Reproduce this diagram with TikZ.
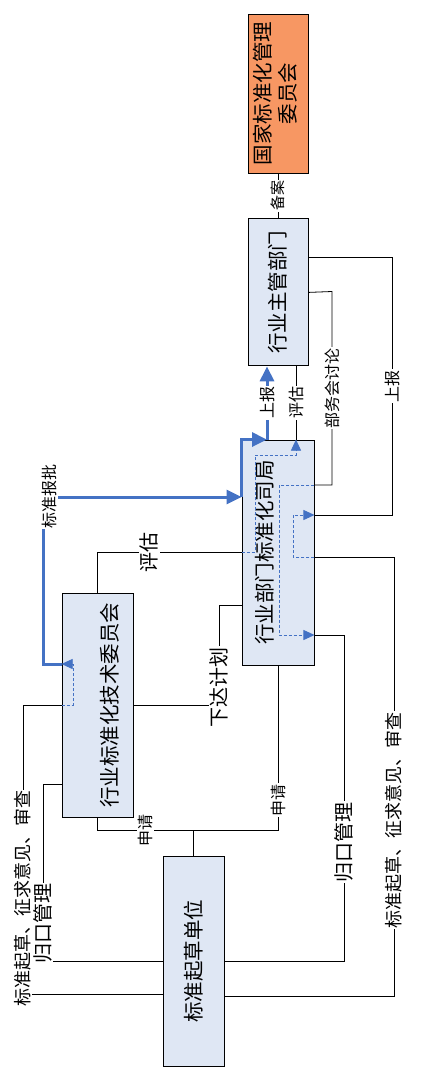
\documentclass[tikz,border=0pt]{standalone}
\usepackage{fontspec}
\newfontfamily\cjk{Noto Sans CJK SC}
\usetikzlibrary{arrows.meta,positioning}
\definecolor{boxblue}{HTML}{DFE7F4}
\definecolor{boxorange}{HTML}{F79763}
\definecolor{flowblue}{HTML}{4472C4}
\tikzset{
  unitbox/.style={draw, line width=0.9pt, inner sep=0pt, fill=boxblue, font=\cjk\fontsize{20.5}{25}\selectfont},
  lbl/.style={fill=white, inner sep=1pt, rotate=90, font=\cjk\fontsize{16}{16}\selectfont},
  midlbl/.style={lbl, font=\cjk\fontsize{18}{18}\selectfont},
  biglbl/.style={lbl, font=\cjk\fontsize{20}{20}\selectfont},
  link/.style={draw, line width=0.8pt},
  hidden/.style={draw=flowblue, line width=0.6pt, dash pattern=on 3pt off 2pt, -{Triangle[length=11pt,width=10pt]}},
  report/.style={draw=flowblue, line width=3pt, -{Triangle[length=15pt,width=14pt]}},
}
\begin{document}
\begin{tikzpicture}[x=1pt,y=-1pt]
	\useasboundingbox (0,0) rectangle (434,1083);
	
	\node[unitbox, fill=boxorange, minimum width=60pt, minimum height=159pt] (sac) at (278,93.5)
		{\rotatebox{90}{\begin{tabular}{@{}c@{}}国家标准化管理\\委员会\end{tabular}}};
	\node[unitbox, minimum width=60pt, minimum height=147pt, below=45pt of sac] (moi)
		{\rotatebox{90}{行业主管部门}};
	\node[unitbox, minimum width=72pt, minimum height=225pt] (bur) at (278,552.5)
		{\rotatebox{90}{行业部门标准化司局}\kern26pt};
	\node[unitbox, minimum width=71pt, minimum height=224pt] (tc) at (97.5,705)
		{\kern25pt\rotatebox{90}{行业标准化技术委员会}};
	\node[unitbox, minimum width=61pt, minimum height=210pt] (unit) at (193.5,961)
		{\rotatebox{90}{标准起草单位}};
	
	\draw[link] (sac) -- node[lbl, font=\cjk\fontsize{15}{15}\selectfont] {备案} (moi);
	\draw[link] (moi.east |- 0,257) -- (392,257) -- node[lbl] {上报} (392,515) -- (bur.east |- 0,515);
	\draw[link] (moi.east) -- (332,291.5) -- node[lbl] {部务会讨论} (332,485) -- (bur.east |- 0,485);
	\draw[link] (bur.north -| 296,0) -- node[lbl] {评估} (moi.south -| 296,0);
	\draw[link] (tc.north) -- (97.5,552) -- node[biglbl, pos=0.36] {评估} (bur.west |- 0,552);
	\draw[link] (bur.west |- 0,605) -- (219,605) -- node[biglbl, pos=0.82] {下达计划} (219,705) -- (tc.east);
	\draw[link] (unit.north) -- (unit.north |- 0,830) -- node[lbl] {申请} (tc.south |- 0,830) -- (tc.south);
	\draw[link] (unit.north |- 0,830) -- (278,830) -- node[lbl, pos=0.18] {申请} (bur.south);
	\draw[link] (bur.east |- 0,635) -- (344,635) -- node[biglbl, pos=0.635] {归口管理} (344,961) -- (unit.east);
	\draw[link] (bur.east |- 0,557) -- (394,557) -- node[midlbl, pos=0.6] {标准起草、征求意见、审查} (394,996) -- (unit.east |- 0,996);
	\draw[link] (tc.west) -- (23,705) -- node[midlbl, pos=0.67] {标准起草、征求意见、审查} (23,994) -- (unit.west |- 0,994);
	\draw[link] (tc.west |- 0,784) -- (43,784) -- node[biglbl, pos=0.79] {归口管理} (43,961) -- (unit.west);
	
	% parts running under the boxes
	\draw[hidden] (bur.east |- 0,557) -- (293,557) -- (293,515) -- (bur.east |- 0,515);
	\draw[hidden] (bur.east |- 0,485) -- (279,485) -- (279,635) -- (bur.east |- 0,635);
	\draw[hidden] (bur.west |- 0,552) -- (255,552) -- (255,455) -- (296,455) -- (bur.north -| 296,0);
	\draw[hidden] (tc.west) -- (73,705) -- (73,664) -- (tc.west |- 0,664);
	
	\draw[report] (tc.west |- 0,664) -- (43,664) -- (43,497) -- (bur.west |- 0,497);
	\draw[report] (bur.west |- 0,497) -- (bur.north west) -- (bur.north -| 267,0);
	\draw[report] (bur.north -| 267,0) -- node[lbl] {上报} (moi.south -| 267,0);
	\node[lbl] (apv) at (49.5,496) {标准报批};
\end{tikzpicture}
\end{document}
